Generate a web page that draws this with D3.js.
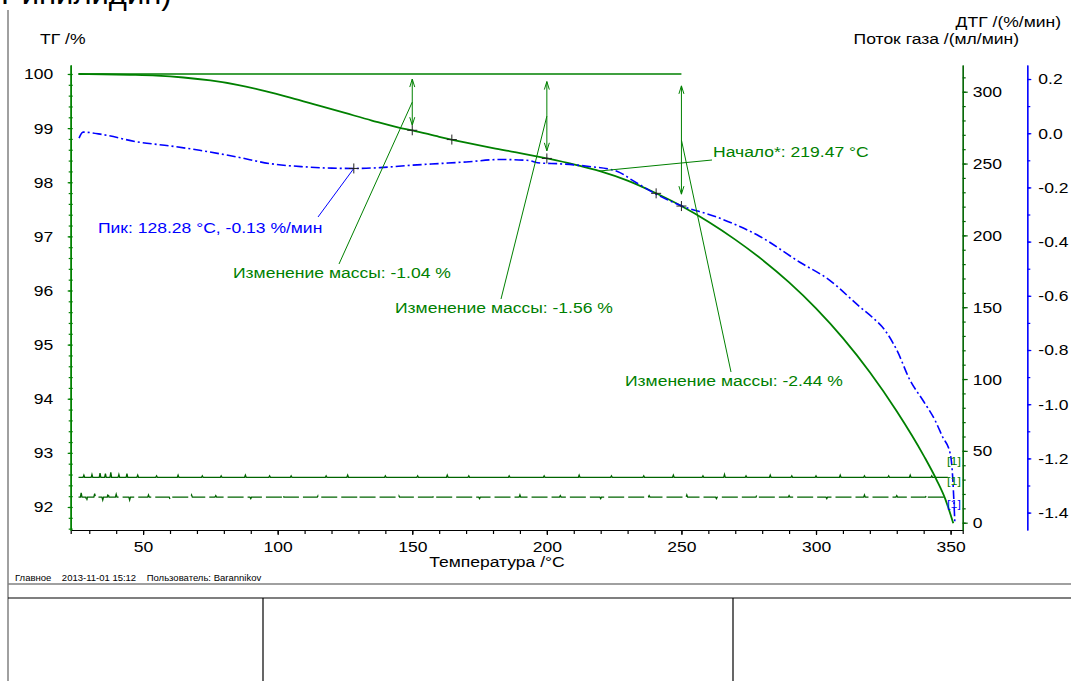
<!DOCTYPE html>
<html>
<head>
<meta charset="utf-8">
<script src="https://cdnjs.cloudflare.com/ajax/libs/d3/7.8.5/d3.min.js"></script>
<style>
  body { margin: 0; background: #fff; }
  svg text { font-family: "Liberation Sans", Arial, sans-serif; }
</style>
</head>
<body>
<svg id="chart" width="1071" height="681"></svg>
<script>
// ---- data ----
var tgTemp  = [26, 35, 45, 55, 65, 75, 85, 95, 105, 115, 125, 135, 145, 150, 160, 170, 180, 190, 200,
               210, 220, 230, 240, 250, 260, 270, 280, 290, 300, 310, 320, 330, 340, 345, 348, 351];
var tgValue = [100.0, 99.995, 99.985, 99.97, 99.935, 99.88, 99.8, 99.69, 99.56, 99.42, 99.28, 99.14, 99.01, 98.96,
               98.84, 98.73, 98.63, 98.54, 98.44, 98.33, 98.2, 98.03, 97.81, 97.56, 97.27, 96.94, 96.57,
               96.15, 95.67, 95.12, 94.49, 93.77, 92.95, 92.48, 92.15, 91.7];

var dtgTemp  = [26.2, 27.7, 35, 47.8, 60, 71, 85, 97, 110, 120, 128.3, 138, 150, 160, 170, 182.6, 192.6,
                197.5, 205, 215, 226, 232, 240.6, 249.5, 263, 279, 294, 305, 316.3, 321, 325.6, 330,
                334.9, 340, 344.2, 347, 349.8, 350.5, 351.6];
var dtgValue = [-0.018, 0.004, -0.005, -0.032, -0.047, -0.063, -0.088, -0.112, -0.124, -0.129, -0.13, -0.127,
                -0.118, -0.112, -0.106, -0.097, -0.1, -0.11, -0.113, -0.122, -0.14, -0.175, -0.225, -0.266,
                -0.309, -0.38, -0.476, -0.542, -0.641, -0.68, -0.727, -0.8, -0.911, -0.99, -1.059, -1.12,
                -1.18, -1.23, -1.44];

// gas flow: two nearly flat traces with small spikes
var flowLevel = [31.6, 17.8];
var flowRange = [26, 349];
var flowSpikeTempA = [28, 31, 34, 36, 38, 41, 44, 48, 55, 63, 72, 79, 88, 97, 105, 118, 126, 140, 152, 163,
                      171, 186, 199, 212, 224, 236, 247, 258, 266, 274, 283, 291, 300, 309, 318, 327, 335, 343];
var flowSpikeSizeA = [1.5, 2, 3, 2.5, 3.5, 2, 2.5, 1.5, 1, 1.5, 1, 1, 1.5, 1, 1, 1, 1.5, 1, 1, 1.5,
                      1, 1, 1, 1.5, 1, 1, 1.5, 1, 2, 1, 1.5, 1, 1, 1.5, 1, 1, 1.5, 1];
var flowSpikeTempB = [27, 29, 32, 35, 37, 40, 45, 52, 60, 68, 77, 90, 102, 115, 130, 145, 158, 175, 190, 205,
                      220, 238, 252, 263, 278, 290, 304, 318, 330, 341];
var flowSpikeSizeB = [3, -3, 2.5, -2, 3, 2, -2, 1.5, -1.5, 1.5, 1, -1, 1.5, 1, -1, 1, 1, -1, 1.5, 1,
                      -1, 1, 1.5, -1, 1.5, 1, -1, 1.5, 1, 1.5];

var stepTemps  = [150, 200, 250];
var stepLabels = ['Изменение массы: -1.04 %', 'Изменение массы: -1.56 %', 'Изменение массы: -2.44 %'];
var crossTemps = [150, 164.7, 200, 240.6, 250];
var onsetTemp = 219.47, onsetLabel = 'Начало*: 219.47 °C';
var peakTemp = 128.28, peakValue = -0.13, peakLabel = 'Пик: 128.28 °C, -0.13 %/мин';

var xTicks = [50, 100, 150, 200, 250, 300, 350];
var tgTicks = [92, 93, 94, 95, 96, 97, 98, 99, 100];
var flowTicks = [0, 50, 100, 150, 200, 250, 300];
var dtgTicks = [0.2, 0.0, -0.2, -0.4, -0.6, -0.8, -1.0, -1.2, -1.4];

// ---- layout ----
var FONT = '"Liberation Sans", Arial, sans-serif';
var FS = 15.5,          // font size of most texts
    STRETCH = 1.13;     // the original font is drawn wider than Liberation Sans
var green = '#008000', darkGreen = '#006400', blue = '#0000ff';
var plotTop = 65, plotBottom = 530;

var svg = d3.select('#chart');

var x = d3.scaleLinear().domain([23.1, 354.5]).range([70.7, 962.7]);
var yTG = d3.scaleLinear().domain([100.166, 91.575]).range([plotTop, plotBottom]);
var yFlow = d3.scaleLinear().domain([318.6, -5.08]).range([plotTop, plotBottom]);
var yDTG = d3.scaleLinear().domain([0.2517, -1.4642]).range([plotTop, plotBottom]);

function translate(a, b) { return 'translate(' + a + ',' + b + ')'; }
function minorRange(a, b, step) {
  var out = [];
  for (var v = a; v <= b + 1e-9; v += step) out.push(Math.round(v * 1000) / 1000);
  return out;
}
function tgAt(t) {
  return d3.scaleLinear().domain(tgTemp).range(tgValue)(t);
}
function styleAxis(g, color) {
  g.attr('font-family', FONT).attr('font-size', FS);
  g.selectAll('path, line').attr('stroke', color).attr('stroke-width', 1.2);
  g.selectAll('text').attr('fill', '#000');
}

// ---- page frame ----
svg.append('text')
  .attr('class', 'nostretch')
  .attr('x', 1).attr('y', 4)
  .attr('font-family', '"Liberation Serif", "Times New Roman", serif')
  .attr('font-size', 31)
  .text('Ринилидин)');

svg.append('line').attr('x1', 8).attr('x2', 8).attr('y1', 10).attr('y2', 681)
  .attr('stroke', '#808080').attr('stroke-width', 1.5);
svg.append('line').attr('x1', 8).attr('x2', 1071).attr('y1', 584).attr('y2', 584)
  .attr('stroke', '#808080').attr('stroke-width', 1.5);
svg.append('line').attr('x1', 8).attr('x2', 1071).attr('y1', 598).attr('y2', 598)
  .attr('stroke', '#000').attr('stroke-width', 1.2);
[263, 733].forEach(function(px) {
  svg.append('line').attr('x1', px).attr('x2', px).attr('y1', 598).attr('y2', 681)
    .attr('stroke', '#000').attr('stroke-width', 1.2);
});

svg.append('text')
  .attr('class', 'nostretch')
  .attr('x', 15).attr('y', 581)
  .attr('font-size', 9.5)
  .attr('xml:space', 'preserve')
  .text('Главное    2013-11-01 15:12    Пользователь: Barannikov');

// ---- axis titles ----
svg.append('text').attr('x', 40).attr('y', 44).attr('font-size', FS)
  .text('ТГ /%');
svg.append('text').attr('x', 1061).attr('y', 27).attr('font-size', FS)
  .attr('text-anchor', 'end').text('ДТГ /(%/мин)');
svg.append('text').attr('x', 1019).attr('y', 44).attr('font-size', FS)
  .attr('text-anchor', 'end').text('Поток газа /(мл/мин)');
svg.append('text').attr('x', 497).attr('y', 567).attr('font-size', FS)
  .attr('text-anchor', 'middle').text('Температура /°C');

// ---- axes ----
// x axis
svg.append('g').attr('transform', translate(0, plotBottom))
  .call(d3.axisBottom(x).tickValues(minorRange(30, 350, 10)).tickSize(4).tickFormat(''))
  .call(styleAxis, '#000');
svg.append('g').attr('transform', translate(0, plotBottom))
  .call(d3.axisBottom(x).tickValues(xTicks).tickSize(5).tickSizeOuter(0).tickPadding(6))
  .call(styleAxis, '#000');

// left TG axis, ticks crossing the axis line
var leftX = x.range()[0];
svg.append('g').attr('transform', translate(leftX, 0))
  .call(d3.axisLeft(yTG).tickValues(minorRange(91.6, 100, 0.2)).tickSize(2).tickSizeOuter(0).tickFormat(''))
  .call(styleAxis, green);
svg.append('g').attr('transform', translate(leftX, 0))
  .call(d3.axisRight(yTG).tickValues(minorRange(91.6, 100, 0.2)).tickSize(2).tickSizeOuter(0).tickFormat(''))
  .call(styleAxis, green);
svg.append('g').attr('transform', translate(leftX, 0))
  .call(d3.axisLeft(yTG).tickValues(tgTicks).tickSize(3).tickSizeOuter(0).tickPadding(14.5))
  .call(styleAxis, green);

// right gas flow axis
var rightX = x.range()[1];
svg.append('g').attr('transform', translate(rightX, 0))
  .call(d3.axisRight(yFlow).tickValues(minorRange(0, 310, 10)).tickSize(3).tickSizeOuter(0).tickFormat(''))
  .call(styleAxis, darkGreen);
svg.append('g').attr('transform', translate(rightX, 0))
  .call(d3.axisRight(yFlow).tickValues(flowTicks).tickSize(5).tickSizeOuter(0).tickPadding(5))
  .call(styleAxis, darkGreen);

// far right DTG axis
var dtgX = 1027.3;
svg.append('g').attr('transform', translate(dtgX, 0))
  .call(d3.axisRight(yDTG).tickValues(minorRange(-1.4, 0.2, 0.1)).tickSize(3).tickSizeOuter(0).tickFormat(''))
  .call(styleAxis, blue);
svg.append('g').attr('transform', translate(dtgX, 0))
  .call(d3.axisRight(yDTG).tickValues(dtgTicks).tickSize(4).tickSizeOuter(0).tickPadding(7)
    .tickFormat(function(d) { return d.toFixed(1); }))
  .call(styleAxis, blue);

// ---- gas flow traces ----
function flowPoints(level, temps, sizes) {
  var pts = [[flowRange[0], level]];
  temps.forEach(function(t, i) {
    pts.push([t - 0.3, level], [t, level + sizes[i]], [t + 0.3, level]);
  });
  pts.push([flowRange[1], level]);
  return pts;
}
var flowLine = d3.line().x(function(d) { return x(d[0]); }).y(function(d) { return yFlow(d[1]); });

svg.append('path')
  .attr('d', flowLine(flowPoints(flowLevel[0], flowSpikeTempA, flowSpikeSizeA)))
  .attr('fill', 'none').attr('stroke', darkGreen).attr('stroke-width', 1.3);
svg.append('path')
  .attr('d', flowLine(flowPoints(flowLevel[1], flowSpikeTempB, flowSpikeSizeB)))
  .attr('fill', 'none').attr('stroke', darkGreen).attr('stroke-width', 1.3)
  .attr('stroke-dasharray', '16,4');

// ---- 100 % reference line ----
svg.append('line')
  .attr('x1', x(tgTemp[0])).attr('x2', x(stepTemps[2]))
  .attr('y1', yTG(100)).attr('y2', yTG(100))
  .attr('stroke', green).attr('stroke-width', 1.3);

// ---- TG curve ----
var tgLine = d3.line()
  .x(function(d, i) { return x(tgTemp[i]); })
  .y(function(d) { return yTG(d); })
  .curve(d3.curveMonotoneX);
svg.append('path').attr('d', tgLine(tgValue))
  .attr('fill', 'none').attr('stroke', green).attr('stroke-width', 1.8);

// ---- DTG curve ----
var dtgLine = d3.line()
  .x(function(d, i) { return x(dtgTemp[i]); })
  .y(function(d) { return yDTG(d); })
  .curve(d3.curveMonotoneX);
svg.append('path').attr('d', dtgLine(dtgValue))
  .attr('fill', 'none').attr('stroke', blue).attr('stroke-width', 1.6)
  .attr('stroke-dasharray', '9,3,2,3');

// ---- mass change arrows ----
var stepLabelPos = [[233, 278], [395, 313], [625, 386]];
stepTemps.forEach(function(t, i) {
  var px = x(t), y0 = yTG(100), y1 = yTG(tgAt(t));
  var len = y1 - y0, a = y0 + len * 0.09, b = y1 - len * 0.09;
  var g = svg.append('g').attr('stroke', green).attr('stroke-width', 1).attr('fill', 'none');
  g.append('line').attr('x1', px).attr('x2', px).attr('y1', a).attr('y2', b);
  g.append('path').attr('d', 'M' + (px - 2.5) + ',' + (a + 8) + 'L' + px + ',' + a + 'L' + (px + 2.5) + ',' + (a + 8));
  g.append('path').attr('d', 'M' + (px - 2.5) + ',' + (b - 8) + 'L' + px + ',' + b + 'L' + (px + 2.5) + ',' + (b - 8));
  var lp = stepLabelPos[i];
  g.append('line').attr('x1', px).attr('y1', (y0 + y1) / 2)
    .attr('x2', lp[0] + 106).attr('y2', lp[1] - 14);
  svg.append('text').attr('x', lp[0]).attr('y', lp[1])
    .attr('font-size', FS).attr('fill', green)
    .text(stepLabels[i]);
});

// ---- onset ----
svg.append('line')
  .attr('x1', x(onsetTemp)).attr('y1', yTG(tgAt(onsetTemp)))
  .attr('x2', 712).attr('y2', 160)
  .attr('stroke', green).attr('stroke-width', 1);
svg.append('text').attr('x', 713).attr('y', 157)
  .attr('font-size', FS).attr('fill', green)
  .text(onsetLabel);

// ---- DTG peak ----
svg.append('line')
  .attr('x1', x(peakTemp)).attr('y1', yDTG(peakValue))
  .attr('x2', 318).attr('y2', 217)
  .attr('stroke', blue).attr('stroke-width', 1);
svg.append('text').attr('x', 98).attr('y', 233)
  .attr('font-size', FS).attr('fill', blue)
  .text(peakLabel);

// ---- cross markers ----
var crosses = crossTemps.map(function(t) { return [x(t), yTG(tgAt(t))]; });
crosses.push([x(peakTemp), yDTG(peakValue)]);
svg.selectAll('.cross').data(crosses).enter().append('path')
  .attr('class', 'cross')
  .attr('d', function(d) {
    return 'M' + (d[0] - 5) + ',' + d[1] + 'H' + (d[0] + 5) + 'M' + d[0] + ',' + (d[1] - 5) + 'V' + (d[1] + 5);
  })
  .attr('stroke', '#222').attr('stroke-width', 1);

// ---- curve end tags ----
var tags = [[yFlow(flowLevel[0]) - 16, green], [yFlow(flowLevel[0]) + 4, green], [yFlow(flowLevel[1]) + 7, blue]];
tags.forEach(function(d) {
  svg.append('text').attr('x', 954).attr('y', d[0] + 4)
    .attr('text-anchor', 'middle').attr('font-size', 11).attr('fill', d[1])
    .text('[1]');
});

// widen the sans texts a little, like the instrument's font
svg.selectAll('text').each(function() {
  if (this.getAttribute('class') === 'nostretch') return;
  var w = this.getComputedTextLength();
  if (w > 0) d3.select(this).attr('textLength', w * STRETCH).attr('lengthAdjust', 'spacingAndGlyphs');
});
</script>
</body>
</html>
